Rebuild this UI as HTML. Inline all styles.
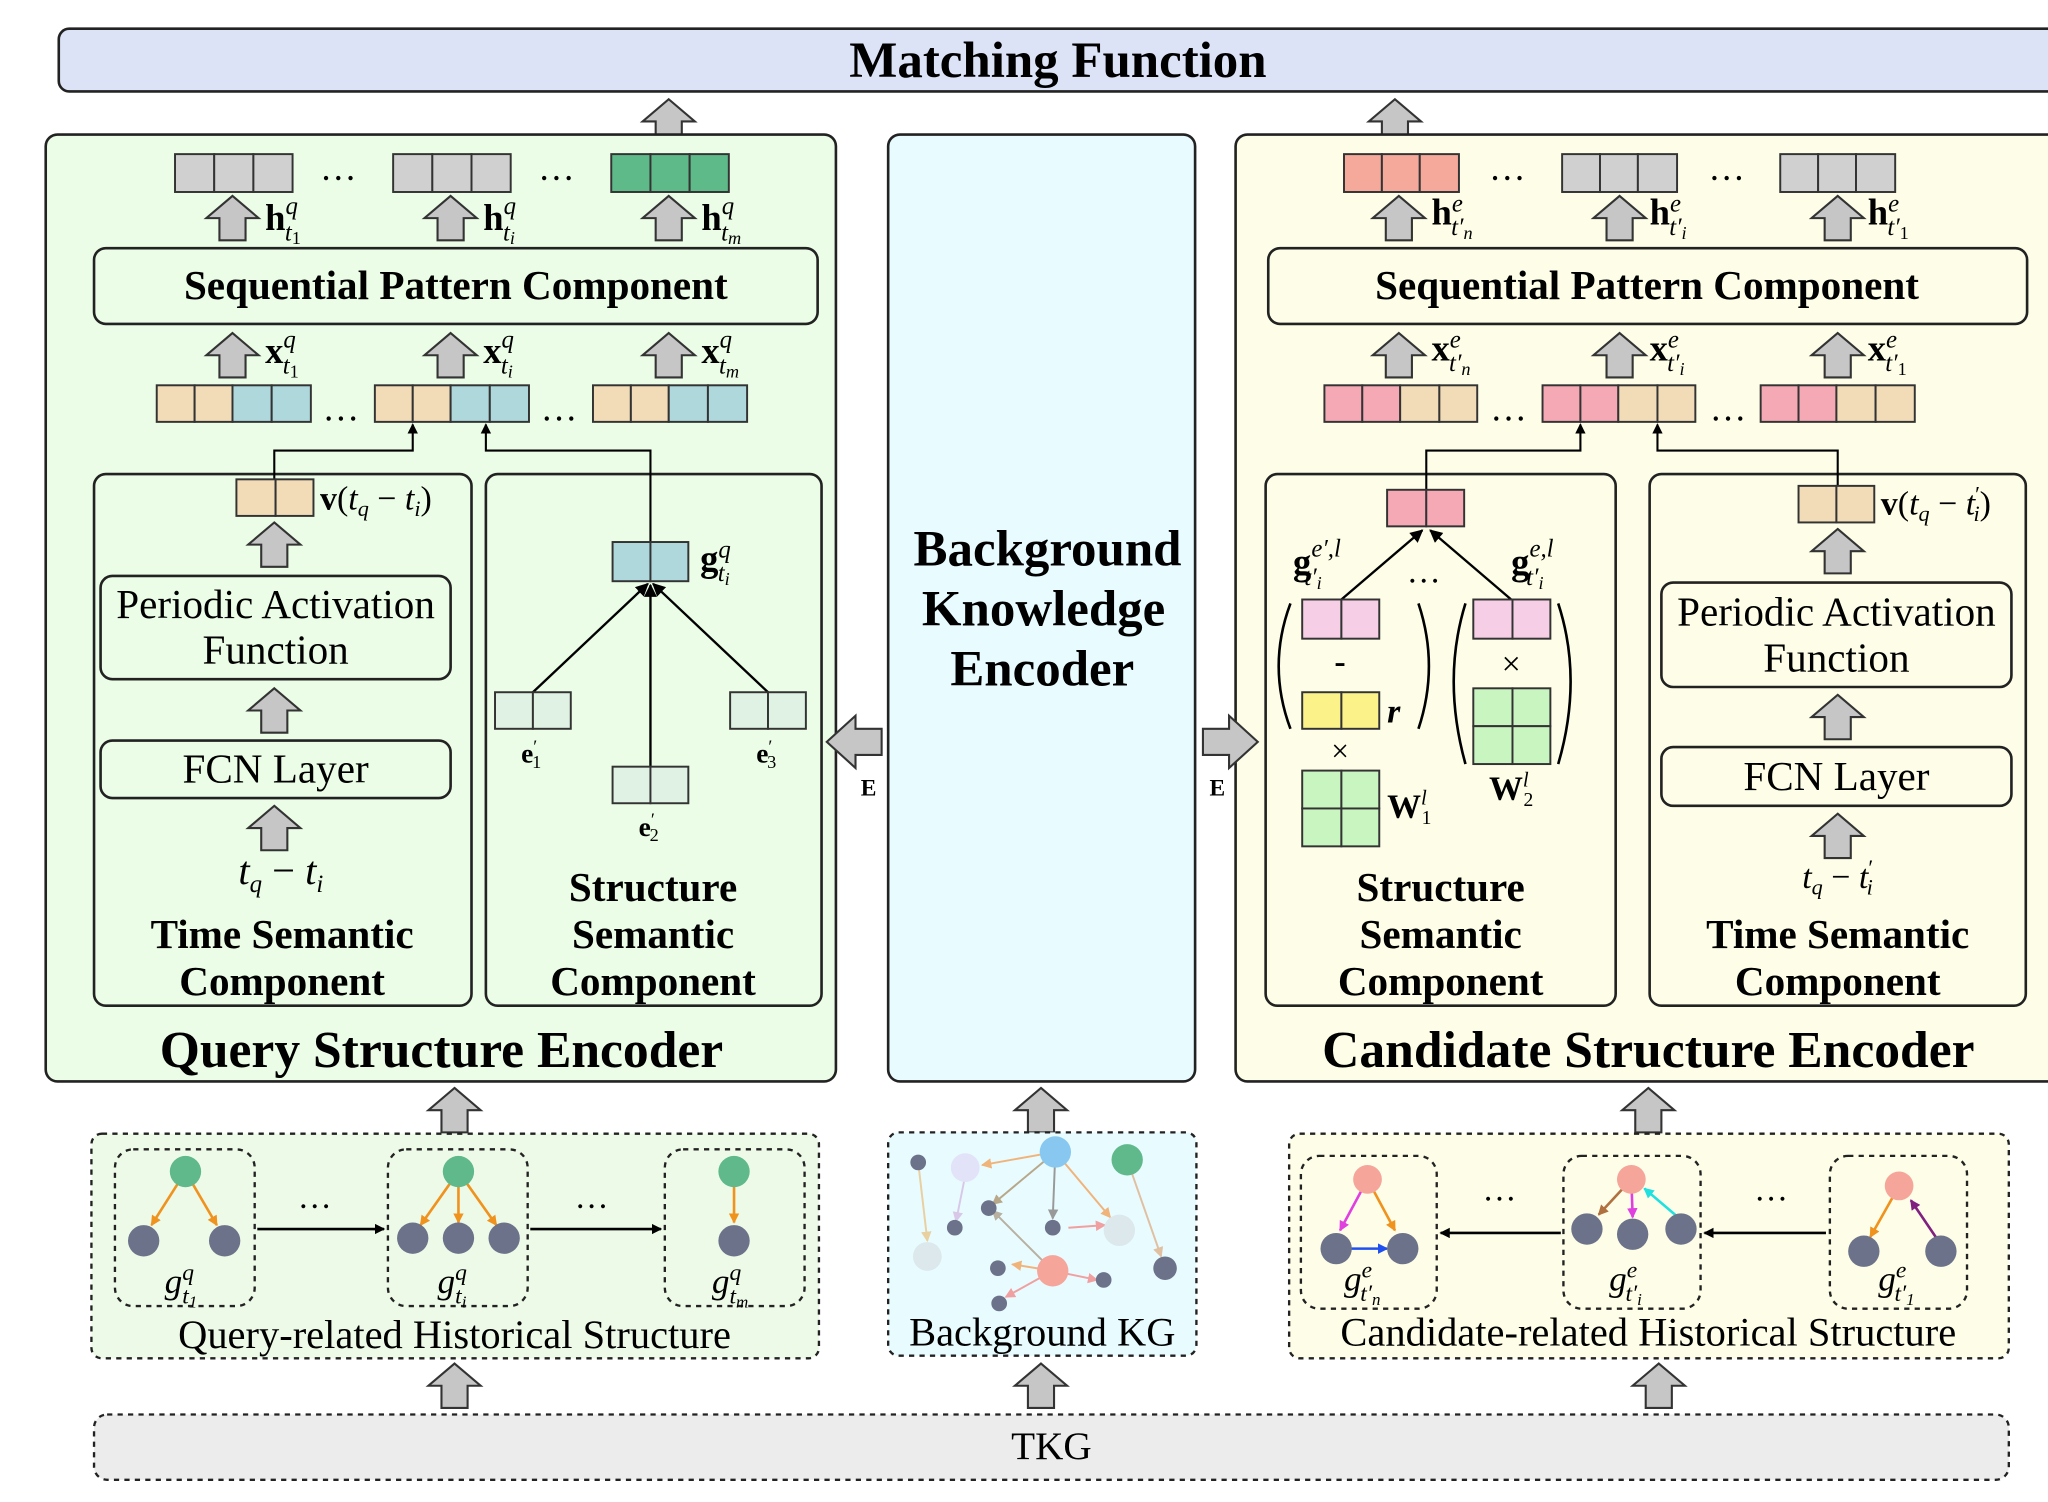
<!DOCTYPE html>
<html><head><meta charset="utf-8"><style>
html,body{margin:0;padding:0;background:#fff;}
svg{display:block;}
text{font-family:"Liberation Serif",serif;fill:#000;}
.b{font-weight:bold;}
.i{font-style:italic;}
</style></head><body>
<svg width="2048" height="1502" viewBox="0 0 1568 1150" preserveAspectRatio="none" xmlns="http://www.w3.org/2000/svg">
<defs>
<path id="ua" d="M20,0 L40,17 L30,17 L30,34 L10,34 L10,17 L0,17 Z" fill="#c6c6c6" stroke="#333" stroke-width="1.6"/>
<marker id="ah" markerWidth="10" markerHeight="10" refX="9" refY="5" orient="auto" markerUnits="userSpaceOnUse"><path d="M0,0 L10,5 L0,10 Z" fill="#000"/></marker>
<marker id="ahs" markerWidth="8" markerHeight="8" refX="7" refY="4" orient="auto" markerUnits="userSpaceOnUse"><path d="M0,0 L8,4 L0,8 Z" fill="context-stroke"/></marker>
</defs>

<rect x="45" y="22" width="1540" height="48" rx="8" fill="#dde3f7" stroke="#222" stroke-width="2"/>
<text x="810" y="59" font-size="39" class="b" text-anchor="middle">Matching Function</text>
<use href="#ua" transform="translate(492,76)"/>
<use href="#ua" transform="translate(1048,76)"/>

<rect x="35" y="103" width="605" height="725" rx="9" fill="#ebfde6" stroke="#222" stroke-width="2"/>
<rect x="680" y="103" width="235" height="725" rx="9" fill="#e8fbff" stroke="#222" stroke-width="2"/>
<rect x="946" y="103" width="640" height="725" rx="9" fill="#fefee8" stroke="#222" stroke-width="2"/>

<g stroke="#333" stroke-width="1.5">
<rect x="134" y="118" width="30" height="29" fill="#d0d0d0"/><rect x="164" y="118" width="30" height="29" fill="#d0d0d0"/><rect x="194" y="118" width="30" height="29" fill="#d0d0d0"/>
<rect x="301" y="118" width="30" height="29" fill="#d0d0d0"/><rect x="331" y="118" width="30" height="29" fill="#d0d0d0"/><rect x="361" y="118" width="30" height="29" fill="#d0d0d0"/>
<rect x="468" y="118" width="30" height="29" fill="#5fba8a"/><rect x="498" y="118" width="30" height="29" fill="#5fba8a"/><rect x="528" y="118" width="30" height="29" fill="#5fba8a"/>
</g>
<text x="245" y="138" font-size="28">…</text><text x="412" y="138" font-size="28">…</text>
<use href="#ua" transform="translate(158,150)"/><use href="#ua" transform="translate(325,150)"/><use href="#ua" transform="translate(492,150)"/>
<text x="203" y="176" font-size="28" class="b">h<tspan font-size="19" dy="-12" class="i" font-weight="normal">q</tspan><tspan font-size="19" dx="-10" dy="20" class="i" font-weight="normal">t</tspan><tspan font-size="14" dy="3" font-weight="normal">1</tspan></text>
<text x="370" y="176" font-size="28" class="b">h<tspan font-size="19" dy="-12" class="i" font-weight="normal">q</tspan><tspan font-size="19" dx="-10" dy="20" class="i" font-weight="normal">t</tspan><tspan font-size="14" dy="3" class="i" font-weight="normal">i</tspan></text>
<text x="537" y="176" font-size="28" class="b">h<tspan font-size="19" dy="-12" class="i" font-weight="normal">q</tspan><tspan font-size="19" dx="-10" dy="20" class="i" font-weight="normal">t</tspan><tspan font-size="14" dy="3" class="i" font-weight="normal">m</tspan></text>

<rect x="72" y="190" width="554" height="58" rx="9" fill="#ebfde6" stroke="#222" stroke-width="2"/>
<text x="349" y="229" font-size="31.5" class="b" text-anchor="middle">Sequential Pattern Component</text>
<use href="#ua" transform="translate(158,255)"/><use href="#ua" transform="translate(325,255)"/><use href="#ua" transform="translate(492,255)"/>
<text x="203" y="278" font-size="28" class="b">x<tspan font-size="19" dy="-12" class="i" font-weight="normal">q</tspan><tspan font-size="19" dx="-10" dy="20" class="i" font-weight="normal">t</tspan><tspan font-size="14" dy="3" font-weight="normal">1</tspan></text>
<text x="370" y="278" font-size="28" class="b">x<tspan font-size="19" dy="-12" class="i" font-weight="normal">q</tspan><tspan font-size="19" dx="-10" dy="20" class="i" font-weight="normal">t</tspan><tspan font-size="14" dy="3" class="i" font-weight="normal">i</tspan></text>
<text x="537" y="278" font-size="28" class="b">x<tspan font-size="19" dy="-12" class="i" font-weight="normal">q</tspan><tspan font-size="19" dx="-10" dy="20" class="i" font-weight="normal">t</tspan><tspan font-size="14" dy="3" class="i" font-weight="normal">m</tspan></text>
<g stroke="#333" stroke-width="1.5">
<rect x="120" y="295" width="29" height="28" fill="#f2dcb8"/><rect x="149" y="295" width="29" height="28" fill="#f2dcb8"/><rect x="178" y="295" width="30" height="28" fill="#aed8dc"/><rect x="208" y="295" width="30" height="28" fill="#aed8dc"/>
<rect x="287" y="295" width="29" height="28" fill="#f2dcb8"/><rect x="316" y="295" width="29" height="28" fill="#f2dcb8"/><rect x="345" y="295" width="30" height="28" fill="#aed8dc"/><rect x="375" y="295" width="30" height="28" fill="#aed8dc"/>
<rect x="454" y="295" width="29" height="28" fill="#f2dcb8"/><rect x="483" y="295" width="29" height="28" fill="#f2dcb8"/><rect x="512" y="295" width="30" height="28" fill="#aed8dc"/><rect x="542" y="295" width="30" height="28" fill="#aed8dc"/>
</g>
<text x="247" y="322" font-size="28">…</text><text x="414" y="322" font-size="28">…</text>

<rect x="72" y="363" width="289" height="407" rx="9" fill="none" stroke="#222" stroke-width="2"/>
<rect x="372" y="363" width="257" height="407" rx="9" fill="none" stroke="#222" stroke-width="2"/>
<path d="M210,367 V345 H316 V325" fill="none" stroke="#000" stroke-width="1.6" marker-end="url(#ahs)"/>
<path d="M498,415 V345 H372 V325" fill="none" stroke="#000" stroke-width="1.6" marker-end="url(#ahs)"/>
<g stroke="#333" stroke-width="1.5"><rect x="181" y="367" width="30" height="28" fill="#f2dcb8"/><rect x="211" y="367" width="29" height="28" fill="#f2dcb8"/></g>
<text x="245" y="390" font-size="26"><tspan class="b">v</tspan>(<tspan class="i">t</tspan><tspan font-size="17" dy="5" class="i">q</tspan><tspan dy="-5"> − </tspan><tspan class="i">t</tspan><tspan font-size="17" dy="5" class="i">i</tspan><tspan dy="-5">)</tspan></text>
<use href="#ua" transform="translate(190,400)"/>
<rect x="77" y="441" width="268" height="79" rx="9" fill="#ebfde6" stroke="#222" stroke-width="2"/>
<text x="211" y="473" font-size="31.5" text-anchor="middle">Periodic Activation</text>
<text x="211" y="508" font-size="31.5" text-anchor="middle">Function</text>
<use href="#ua" transform="translate(190,527)"/>
<rect x="77" y="567" width="268" height="44" rx="9" fill="#ebfde6" stroke="#222" stroke-width="2"/>
<text x="211" y="599" font-size="31.5" text-anchor="middle">FCN Layer</text>
<use href="#ua" transform="translate(190,617)"/>
<text x="215" y="677" font-size="31" text-anchor="middle"><tspan class="i">t</tspan><tspan font-size="19" dy="6" class="i">q</tspan><tspan dy="-6"> − </tspan><tspan class="i">t</tspan><tspan font-size="19" dy="6" class="i">i</tspan></text>
<text x="216" y="726" font-size="31.5" class="b" text-anchor="middle">Time Semantic</text>
<text x="216" y="762" font-size="31.5" class="b" text-anchor="middle">Component</text>

<g stroke="#000" stroke-width="1.8" marker-end="url(#ah)">
<line x1="408" y1="530" x2="496" y2="447"/><line x1="498" y1="587" x2="498" y2="448"/><line x1="588" y1="530" x2="500" y2="447"/>
</g>
<g stroke="#333" stroke-width="1.5">
<rect x="469" y="415" width="29" height="30" fill="#aed8dc"/><rect x="498" y="415" width="29" height="30" fill="#aed8dc"/>
<rect x="379" y="530" width="29" height="28" fill="#dff2e3"/><rect x="408" y="530" width="29" height="28" fill="#dff2e3"/>
<rect x="559" y="530" width="29" height="28" fill="#dff2e3"/><rect x="588" y="530" width="29" height="28" fill="#dff2e3"/>
<rect x="469" y="587" width="29" height="28" fill="#dff2e3"/><rect x="498" y="587" width="29" height="28" fill="#dff2e3"/>
</g>
<text x="536" y="437" font-size="28" class="b">g<tspan font-size="19" dy="-10" class="i" font-weight="normal">q</tspan><tspan font-size="19" dx="-10" dy="18" class="i" font-weight="normal">t</tspan><tspan font-size="14" dy="3" class="i" font-weight="normal">i</tspan></text>
<text x="399" y="584" font-size="21" class="b">e<tspan font-size="14" dy="-8" font-weight="normal">′</tspan><tspan font-size="14" dx="-4" dy="12" font-weight="normal">1</tspan></text>
<text x="579" y="584" font-size="21" class="b">e<tspan font-size="14" dy="-8" font-weight="normal">′</tspan><tspan font-size="14" dx="-4" dy="12" font-weight="normal">3</tspan></text>
<text x="489" y="640" font-size="21" class="b">e<tspan font-size="14" dy="-8" font-weight="normal">′</tspan><tspan font-size="14" dx="-4" dy="12" font-weight="normal">2</tspan></text>
<text x="500" y="690" font-size="31.5" class="b" text-anchor="middle">Structure</text>
<text x="500" y="726" font-size="31.5" class="b" text-anchor="middle">Semantic</text>
<text x="500" y="762" font-size="31.5" class="b" text-anchor="middle">Component</text>
<text x="338" y="817" font-size="39.5" class="b" text-anchor="middle">Query Structure Encoder</text>

<path d="M633,568 L655,548 L655,558 L675,558 L675,578 L655,578 L655,588 Z" fill="#c6c6c6" stroke="#333" stroke-width="1.6"/>
<text x="665" y="609" font-size="18" class="b" text-anchor="middle">E</text>
<path d="M963,568 L941,548 L941,558 L921,558 L921,578 L941,578 L941,588 Z" fill="#c6c6c6" stroke="#333" stroke-width="1.6"/>
<text x="932" y="609" font-size="18" class="b" text-anchor="middle">E</text>

<text x="802" y="433" font-size="39" class="b" text-anchor="middle">Background</text>
<text x="799" y="479" font-size="39" class="b" text-anchor="middle">Knowledge</text>
<text x="798" y="525" font-size="39" class="b" text-anchor="middle">Encoder</text>

<g stroke="#333" stroke-width="1.5">
<rect x="1029" y="118" width="29" height="29" fill="#f4a99a"/><rect x="1058" y="118" width="29" height="29" fill="#f4a99a"/><rect x="1087" y="118" width="30" height="29" fill="#f4a99a"/>
<rect x="1196" y="118" width="29" height="29" fill="#d0d0d0"/><rect x="1225" y="118" width="29" height="29" fill="#d0d0d0"/><rect x="1254" y="118" width="30" height="29" fill="#d0d0d0"/>
<rect x="1363" y="118" width="29" height="29" fill="#d0d0d0"/><rect x="1392" y="118" width="29" height="29" fill="#d0d0d0"/><rect x="1421" y="118" width="30" height="29" fill="#d0d0d0"/>
</g>
<text x="1140" y="138" font-size="28">…</text><text x="1308" y="138" font-size="28">…</text>
<use href="#ua" transform="translate(1051,150)"/><use href="#ua" transform="translate(1220,150)"/><use href="#ua" transform="translate(1387,150)"/>
<text x="1096" y="172" font-size="28" class="b">h<tspan font-size="19" dy="-10" class="i" font-weight="normal">e</tspan><tspan font-size="19" dx="-9" dy="18" class="i" font-weight="normal">t′</tspan><tspan font-size="14" dy="3" class="i" font-weight="normal">n</tspan></text>
<text x="1263" y="172" font-size="28" class="b">h<tspan font-size="19" dy="-10" class="i" font-weight="normal">e</tspan><tspan font-size="19" dx="-9" dy="18" class="i" font-weight="normal">t′</tspan><tspan font-size="14" dy="3" class="i" font-weight="normal">i</tspan></text>
<text x="1430" y="172" font-size="28" class="b">h<tspan font-size="19" dy="-10" class="i" font-weight="normal">e</tspan><tspan font-size="19" dx="-9" dy="18" class="i" font-weight="normal">t′</tspan><tspan font-size="14" dy="3" font-weight="normal">1</tspan></text>
<rect x="971" y="190" width="581" height="58" rx="9" fill="#fefee8" stroke="#222" stroke-width="2"/>
<text x="1261" y="229" font-size="31.5" class="b" text-anchor="middle">Sequential Pattern Component</text>
<use href="#ua" transform="translate(1051,255)"/><use href="#ua" transform="translate(1220,255)"/><use href="#ua" transform="translate(1387,255)"/>
<text x="1096" y="276" font-size="28" class="b">x<tspan font-size="19" dy="-10" class="i" font-weight="normal">e</tspan><tspan font-size="19" dx="-9" dy="18" class="i" font-weight="normal">t′</tspan><tspan font-size="14" dy="3" class="i" font-weight="normal">n</tspan></text>
<text x="1263" y="276" font-size="28" class="b">x<tspan font-size="19" dy="-10" class="i" font-weight="normal">e</tspan><tspan font-size="19" dx="-9" dy="18" class="i" font-weight="normal">t′</tspan><tspan font-size="14" dy="3" class="i" font-weight="normal">i</tspan></text>
<text x="1430" y="276" font-size="28" class="b">x<tspan font-size="19" dy="-10" class="i" font-weight="normal">e</tspan><tspan font-size="19" dx="-9" dy="18" class="i" font-weight="normal">t′</tspan><tspan font-size="14" dy="3" font-weight="normal">1</tspan></text>
<g stroke="#333" stroke-width="1.5">
<rect x="1014" y="295" width="29" height="28" fill="#f5a9b5"/><rect x="1043" y="295" width="29" height="28" fill="#f5a9b5"/><rect x="1072" y="295" width="30" height="28" fill="#f2dcb8"/><rect x="1102" y="295" width="29" height="28" fill="#f2dcb8"/>
<rect x="1181" y="295" width="29" height="28" fill="#f5a9b5"/><rect x="1210" y="295" width="29" height="28" fill="#f5a9b5"/><rect x="1239" y="295" width="30" height="28" fill="#f2dcb8"/><rect x="1269" y="295" width="29" height="28" fill="#f2dcb8"/>
<rect x="1348" y="295" width="29" height="28" fill="#f5a9b5"/><rect x="1377" y="295" width="29" height="28" fill="#f5a9b5"/><rect x="1406" y="295" width="30" height="28" fill="#f2dcb8"/><rect x="1436" y="295" width="30" height="28" fill="#f2dcb8"/>
</g>
<text x="1141" y="322" font-size="28">…</text><text x="1309" y="322" font-size="28">…</text>

<rect x="969" y="363" width="268" height="407" rx="9" fill="none" stroke="#222" stroke-width="2"/>
<rect x="1263" y="363" width="288" height="407" rx="9" fill="none" stroke="#222" stroke-width="2"/>
<path d="M1092,375 V345 H1210 V325" fill="none" stroke="#000" stroke-width="1.6" marker-end="url(#ahs)"/>
<path d="M1407,372 V345 H1269 V325" fill="none" stroke="#000" stroke-width="1.6" marker-end="url(#ahs)"/>

<g stroke="#000" stroke-width="1.8" marker-end="url(#ah)">
<line x1="1027" y1="459" x2="1089" y2="406"/><line x1="1157" y1="459" x2="1095" y2="406"/>
</g>
<g stroke="#333" stroke-width="1.5">
<rect x="1062" y="375" width="30" height="28" fill="#f5a9b5"/><rect x="1092" y="375" width="29" height="28" fill="#f5a9b5"/>
<rect x="997" y="459" width="30" height="30" fill="#f6cfe6"/><rect x="1027" y="459" width="29" height="30" fill="#f6cfe6"/>
<rect x="1128" y="459" width="30" height="30" fill="#f6cfe6"/><rect x="1158" y="459" width="29" height="30" fill="#f6cfe6"/>
<rect x="997" y="530" width="30" height="28" fill="#fbf38a"/><rect x="1027" y="530" width="29" height="28" fill="#fbf38a"/>
<rect x="997" y="590" width="30" height="29" fill="#c8f5c0"/><rect x="1027" y="590" width="29" height="29" fill="#c8f5c0"/><rect x="997" y="619" width="30" height="29" fill="#c8f5c0"/><rect x="1027" y="619" width="29" height="29" fill="#c8f5c0"/>
<rect x="1128" y="527" width="30" height="29" fill="#c8f5c0"/><rect x="1158" y="527" width="29" height="29" fill="#c8f5c0"/><rect x="1128" y="556" width="30" height="29" fill="#c8f5c0"/><rect x="1158" y="556" width="29" height="29" fill="#c8f5c0"/>
</g>
<text x="990" y="440" font-size="28" class="b">g<tspan font-size="19" dy="-14" class="i" font-weight="normal">e′,l</tspan><tspan font-size="19" dx="-28" dy="22" class="i" font-weight="normal">t′</tspan><tspan font-size="14" dy="3" class="i" font-weight="normal">i</tspan></text>
<text x="1157" y="440" font-size="28" class="b">g<tspan font-size="19" dy="-14" class="i" font-weight="normal">e,l</tspan><tspan font-size="19" dx="-21" dy="22" class="i" font-weight="normal">t′</tspan><tspan font-size="14" dy="3" class="i" font-weight="normal">i</tspan></text>
<text x="1077" y="446" font-size="26">…</text>
<text x="1026" y="515" font-size="26" class="b" text-anchor="middle">-</text>
<text x="1157" y="517" font-size="26" text-anchor="middle">×</text>
<text x="1026" y="583" font-size="24" text-anchor="middle">×</text>
<text x="1062" y="553" font-size="26" class="i b">r</text>
<text x="1062" y="626" font-size="26" class="b">W<tspan font-size="16" dy="-10" class="i" font-weight="normal">l</tspan><tspan font-size="15" dx="-4" dy="15" font-weight="normal">1</tspan></text>
<text x="1140" y="612" font-size="26" class="b">W<tspan font-size="16" dy="-10" class="i" font-weight="normal">l</tspan><tspan font-size="15" dx="-4" dy="15" font-weight="normal">2</tspan></text>
<g fill="none" stroke="#000" stroke-width="2">
<path d="M988,462 Q970,510 988,558"/><path d="M1086,462 Q1102,510 1086,558"/>
<path d="M1122,462 Q1104,520 1122,585"/><path d="M1193,462 Q1212,520 1193,585"/>
</g>
<text x="1103" y="690" font-size="31.5" class="b" text-anchor="middle">Structure</text>
<text x="1103" y="726" font-size="31.5" class="b" text-anchor="middle">Semantic</text>
<text x="1103" y="762" font-size="31.5" class="b" text-anchor="middle">Component</text>

<g stroke="#333" stroke-width="1.5"><rect x="1377" y="372" width="29" height="28" fill="#f2dcb8"/><rect x="1406" y="372" width="29" height="28" fill="#f2dcb8"/></g>
<text x="1440" y="394" font-size="26"><tspan class="b">v</tspan>(<tspan class="i">t</tspan><tspan font-size="17" dy="5" class="i">q</tspan><tspan dy="-5"> − </tspan><tspan class="i">t</tspan><tspan font-size="17" dy="-10">′</tspan><tspan font-size="17" dx="-5" dy="15" class="i">i</tspan><tspan dy="-5">)</tspan></text>
<use href="#ua" transform="translate(1387,405)"/>
<rect x="1272" y="446" width="268" height="80" rx="9" fill="#fefee8" stroke="#222" stroke-width="2"/>
<text x="1406" y="479" font-size="31.5" text-anchor="middle">Periodic Activation</text>
<text x="1406" y="514" font-size="31.5" text-anchor="middle">Function</text>
<use href="#ua" transform="translate(1387,532)"/>
<rect x="1272" y="572" width="268" height="45" rx="9" fill="#fefee8" stroke="#222" stroke-width="2"/>
<text x="1406" y="605" font-size="31.5" text-anchor="middle">FCN Layer</text>
<use href="#ua" transform="translate(1387,623)"/>
<text x="1407" y="680" font-size="26" text-anchor="middle"><tspan class="i">t</tspan><tspan font-size="17" dy="5" class="i">q</tspan><tspan dy="-5"> − </tspan><tspan class="i">t</tspan><tspan font-size="17" dy="-10">′</tspan><tspan font-size="17" dx="-5" dy="15" class="i">i</tspan></text>
<text x="1407" y="726" font-size="31.5" class="b" text-anchor="middle">Time Semantic</text>
<text x="1407" y="762" font-size="31.5" class="b" text-anchor="middle">Component</text>
<text x="1262" y="817" font-size="39.5" class="b" text-anchor="middle">Candidate Structure Encoder</text>

<use href="#ua" transform="translate(328,833)"/><use href="#ua" transform="translate(777,833)"/><use href="#ua" transform="translate(1242,833)"/>
<use href="#ua" transform="translate(328,1044)"/><use href="#ua" transform="translate(777,1044)"/><use href="#ua" transform="translate(1250,1044)"/>

<g stroke="#222" stroke-width="1.8" stroke-dasharray="4,4">
<rect x="70" y="868" width="557" height="172" rx="8" fill="#eefae8"/>
<rect x="680" y="867" width="236" height="171" rx="8" fill="#e8fbff"/>
<rect x="987" y="868" width="551" height="172" rx="8" fill="#fefee8"/>
<rect x="72" y="1083" width="1466" height="50" rx="10" fill="#ececec"/>
<rect x="88" y="880" width="107" height="120" rx="14" fill="none"/>
<rect x="297" y="880" width="107" height="120" rx="14" fill="none"/>
<rect x="509" y="880" width="107" height="120" rx="14" fill="none"/>
<rect x="996" y="885" width="104" height="117" rx="14" fill="none"/>
<rect x="1197" y="885" width="105" height="117" rx="14" fill="none"/>
<rect x="1401" y="885" width="105" height="117" rx="14" fill="none"/>
</g>
<text x="348" y="1032" font-size="31" text-anchor="middle">Query-related Historical Structure</text>
<text x="798" y="1030" font-size="31" text-anchor="middle">Background KG</text>
<text x="1262" y="1030" font-size="31" text-anchor="middle">Candidate-related Historical Structure</text>
<text x="805" y="1117" font-size="30" text-anchor="middle">TKG</text>

<g stroke-width="2" fill="none">
<line x1="142" y1="897" x2="116" y2="938" stroke="#f0921e" marker-end="url(#ahs)"/>
<line x1="142" y1="897" x2="166" y2="938" stroke="#f0921e" marker-end="url(#ahs)"/>
<line x1="351" y1="897" x2="322" y2="938" stroke="#f0921e" marker-end="url(#ahs)"/>
<line x1="351" y1="897" x2="351" y2="936" stroke="#f0921e" marker-end="url(#ahs)"/>
<line x1="351" y1="897" x2="380" y2="938" stroke="#f0921e" marker-end="url(#ahs)"/>
<line x1="562" y1="897" x2="562" y2="936" stroke="#f0921e" marker-end="url(#ahs)"/>
<line x1="197" y1="941" x2="294" y2="941" stroke="#000" marker-end="url(#ahs)"/>
<line x1="406" y1="941" x2="506" y2="941" stroke="#000" marker-end="url(#ahs)"/>
</g>
<circle cx="142" cy="897" r="12" fill="#5fb98a"/><circle cx="110" cy="950" r="12" fill="#6b7289"/><circle cx="172" cy="950" r="12" fill="#6b7289"/>
<circle cx="351" cy="897" r="12" fill="#5fb98a"/><circle cx="316" cy="948" r="12" fill="#6b7289"/><circle cx="351" cy="948" r="12" fill="#6b7289"/><circle cx="386" cy="948" r="12" fill="#6b7289"/>
<circle cx="562" cy="897" r="12" fill="#5fb98a"/><circle cx="562" cy="950" r="12" fill="#6b7289"/>
<text x="228" y="925" font-size="26">…</text><text x="440" y="925" font-size="26">…</text>
<text x="126" y="990" font-size="27" class="i">g<tspan font-size="18" dy="-10">q</tspan><tspan font-size="18" dx="-9" dy="18">t</tspan><tspan font-size="13" dy="3">1</tspan></text>
<text x="335" y="990" font-size="27" class="i">g<tspan font-size="18" dy="-10">q</tspan><tspan font-size="18" dx="-9" dy="18">t</tspan><tspan font-size="13" dy="3">i</tspan></text>
<text x="545" y="990" font-size="27" class="i">g<tspan font-size="18" dy="-10">q</tspan><tspan font-size="18" dx="-9" dy="18">t</tspan><tspan font-size="13" dy="3">m</tspan></text>

<g stroke-width="1.5" fill="none">
<line x1="808" y1="882" x2="752" y2="892" stroke="#f0b37a" marker-end="url(#ahs)"/>
<line x1="808" y1="882" x2="760" y2="922" stroke="#b8a88a" marker-end="url(#ahs)"/>
<line x1="808" y1="882" x2="806" y2="933" stroke="#999" marker-end="url(#ahs)"/>
<line x1="808" y1="882" x2="850" y2="932" stroke="#f0b37a" marker-end="url(#ahs)"/>
<line x1="703" y1="890" x2="710" y2="950" stroke="#e9d0a0" marker-end="url(#ahs)"/>
<line x1="740" y1="895" x2="732" y2="935" stroke="#d8c8e8" marker-end="url(#ahs)"/>
<line x1="863" y1="888" x2="889" y2="962" stroke="#e0c0a0" marker-end="url(#ahs)"/>
<line x1="806" y1="973" x2="760" y2="927" stroke="#b8b0a0" marker-end="url(#ahs)"/>
<line x1="806" y1="973" x2="775" y2="968" stroke="#f0b37a" marker-end="url(#ahs)"/>
<line x1="806" y1="973" x2="770" y2="993" stroke="#f0a0a0" marker-end="url(#ahs)"/>
<line x1="806" y1="973" x2="840" y2="980" stroke="#f0a0a0" marker-end="url(#ahs)"/>
<line x1="818" y1="940" x2="846" y2="938" stroke="#f0a0a0" marker-end="url(#ahs)"/>
</g>
<circle cx="808" cy="882" r="12" fill="#88c8f0"/><circle cx="739" cy="894" r="11" fill="#e2e2f8"/><circle cx="703" cy="890" r="6" fill="#6b7289"/>
<circle cx="863" cy="888" r="12" fill="#5fb98a"/><circle cx="710" cy="962" r="11" fill="#dce8ec"/><circle cx="731" cy="940" r="6" fill="#6b7289"/>
<circle cx="757" cy="925" r="6" fill="#6b7289"/><circle cx="806" cy="940" r="6" fill="#6b7289"/><circle cx="857" cy="942" r="12" fill="#dce8ec"/>
<circle cx="806" cy="973" r="12" fill="#f5a59a"/><circle cx="764" cy="971" r="6" fill="#6b7289"/><circle cx="765" cy="998" r="6" fill="#6b7289"/>
<circle cx="845" cy="980" r="6" fill="#6b7289"/><circle cx="892" cy="971" r="9" fill="#6b7289"/>

<g stroke-width="2" fill="none">
<line x1="1047" y1="903" x2="1026" y2="942" stroke="#e040e0" marker-end="url(#ahs)"/>
<line x1="1047" y1="903" x2="1068" y2="942" stroke="#f0921e" marker-end="url(#ahs)"/>
<line x1="1034" y1="956" x2="1062" y2="956" stroke="#2050f0" marker-end="url(#ahs)"/>
<line x1="1249" y1="903" x2="1224" y2="930" stroke="#b07040" marker-end="url(#ahs)"/>
<line x1="1249" y1="903" x2="1250" y2="932" stroke="#e040e0" marker-end="url(#ahs)"/>
<line x1="1286" y1="933" x2="1259" y2="910" stroke="#20e0e0" marker-end="url(#ahs)"/>
<line x1="1454" y1="908" x2="1432" y2="947" stroke="#f0921e" marker-end="url(#ahs)"/>
<line x1="1484" y1="950" x2="1463" y2="919" stroke="#802080" marker-end="url(#ahs)"/>
<line x1="1195" y1="944" x2="1103" y2="944" stroke="#000" marker-end="url(#ahs)"/>
<line x1="1398" y1="944" x2="1305" y2="944" stroke="#000" marker-end="url(#ahs)"/>
</g>
<circle cx="1047" cy="903" r="11" fill="#f5a59a"/><circle cx="1023" cy="956" r="12" fill="#6b7289"/><circle cx="1074" cy="956" r="12" fill="#6b7289"/>
<circle cx="1249" cy="903" r="11" fill="#f5a59a"/><circle cx="1215" cy="941" r="12" fill="#6b7289"/><circle cx="1250" cy="945" r="12" fill="#6b7289"/><circle cx="1287" cy="941" r="12" fill="#6b7289"/>
<circle cx="1454" cy="908" r="11" fill="#f5a59a"/><circle cx="1427" cy="958" r="12" fill="#6b7289"/><circle cx="1486" cy="958" r="12" fill="#6b7289"/>
<text x="1135" y="919" font-size="26">…</text><text x="1343" y="919" font-size="26">…</text>
<text x="1029" y="988" font-size="27" class="i">g<tspan font-size="18" dy="-10">e</tspan><tspan font-size="18" dx="-9" dy="18">t′</tspan><tspan font-size="13" dy="3">n</tspan></text>
<text x="1232" y="988" font-size="27" class="i">g<tspan font-size="18" dy="-10">e</tspan><tspan font-size="18" dx="-9" dy="18">t′</tspan><tspan font-size="13" dy="3">i</tspan></text>
<text x="1438" y="988" font-size="27" class="i">g<tspan font-size="18" dy="-10">e</tspan><tspan font-size="18" dx="-9" dy="18">t′</tspan><tspan font-size="13" dy="3">1</tspan></text>
</svg>
</body></html>
